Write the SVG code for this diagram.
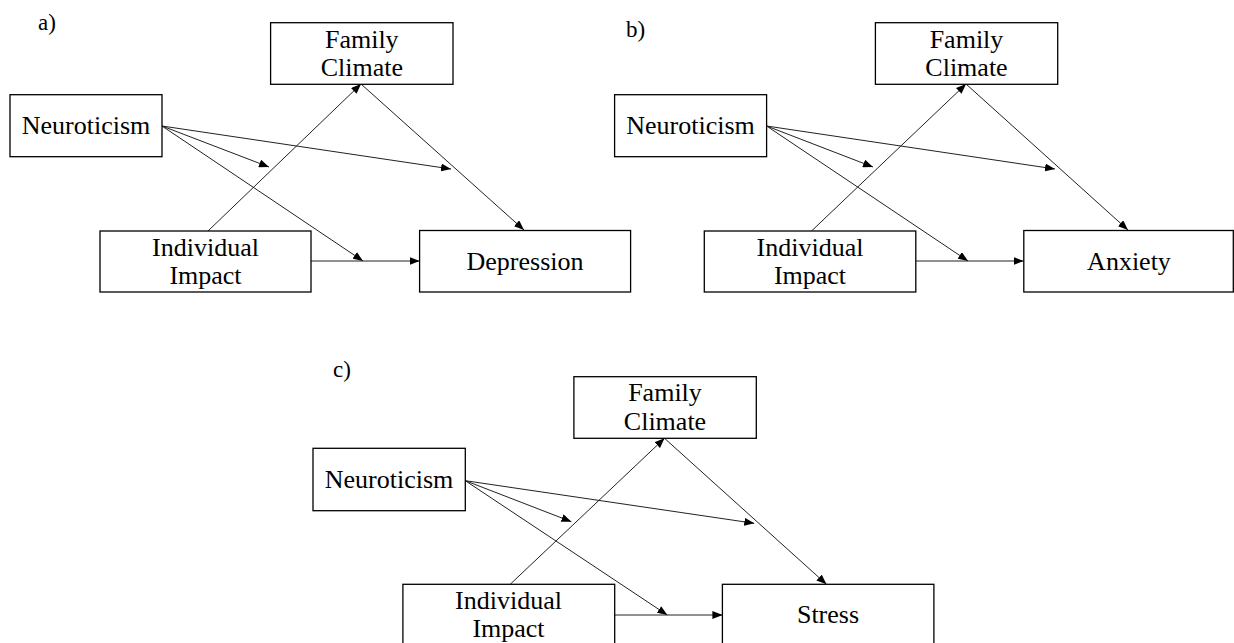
<svg xmlns="http://www.w3.org/2000/svg" width="1234" height="643" viewBox="0 0 1234 643">
<style>
.box{fill:#fff;stroke:#000;stroke-width:1.3}
.t{font-family:"Liberation Serif","Times New Roman",serif;font-size:26px;fill:#000;text-anchor:middle}
.lab{font-family:"Liberation Serif","Times New Roman",serif;font-size:23px;fill:#000}
.c{fill:none;stroke:#222;stroke-width:1;marker-end:url(#ah)}
</style>
<defs>
<marker id="ah" markerUnits="userSpaceOnUse" markerWidth="10" markerHeight="8" viewBox="0 0 10 8" refX="10" refY="4" orient="auto">
<path d="M0,0 L10,4 L0,8 Z" fill="#000"/>
</marker>
</defs>
<rect width="1234" height="643" fill="#fff"/>
<text class="lab" x="38" y="30">a)</text>
<text class="lab" x="626" y="37">b)</text>
<text class="lab" x="333" y="377">c)</text>
<g id="connectors">
<line class="c" x1="162" y1="126" x2="269" y2="167"/>
<line class="c" x1="162" y1="126" x2="451" y2="169"/>
<line class="c" x1="162" y1="126" x2="363" y2="261"/>
<line class="c" x1="311" y1="261" x2="419.6" y2="261"/>
<line class="c" x1="208" y1="231" x2="361" y2="84"/>
<line class="c" x1="361" y1="84" x2="524" y2="230"/>
<line class="c" x1="766.6" y1="126" x2="873" y2="167"/>
<line class="c" x1="766.6" y1="126" x2="1055" y2="169"/>
<line class="c" x1="766.6" y1="126" x2="968" y2="261"/>
<line class="c" x1="915.8" y1="261" x2="1023.5" y2="261"/>
<line class="c" x1="811.5" y1="231" x2="966" y2="84"/>
<line class="c" x1="966" y1="84" x2="1128" y2="230"/>
<line class="c" x1="465.3" y1="480.7" x2="571.4" y2="521.7"/>
<line class="c" x1="465.3" y1="480.7" x2="754.3" y2="523.3"/>
<line class="c" x1="465.3" y1="480.7" x2="667.3" y2="615"/>
<line class="c" x1="614.7" y1="615" x2="722.4" y2="615"/>
<line class="c" x1="510.2" y1="584.3" x2="664.5" y2="438.3"/>
<line class="c" x1="664.5" y1="438.3" x2="826.5" y2="584.3"/>
</g>
<g id="a-family">
<rect class="box" x="270.6" y="22.7" width="182.4" height="61.6"/>
<text class="t" x="361.8" y="48">Family</text>
<text class="t" x="361.8" y="76">Climate</text>
</g>
<g id="a-neuroticism">
<rect class="box" x="10" y="94.7" width="152" height="62"/>
<text class="t" x="86" y="134">Neuroticism</text>
</g>
<g id="a-individual">
<rect class="box" x="100" y="231" width="211" height="61"/>
<text class="t" x="205.5" y="256">Individual</text>
<text class="t" x="205.5" y="284">Impact</text>
</g>
<g id="a-depression">
<rect class="box" x="419.6" y="230.5" width="211" height="61.5"/>
<text class="t" x="525" y="270">Depression</text>
</g>
<g id="b-family">
<rect class="box" x="875.4" y="22.7" width="182.3" height="61.6"/>
<text class="t" x="966.5" y="48">Family</text>
<text class="t" x="966.5" y="76">Climate</text>
</g>
<g id="b-neuroticism">
<rect class="box" x="614.6" y="94.7" width="152" height="62"/>
<text class="t" x="690.5" y="134">Neuroticism</text>
</g>
<g id="b-individual">
<rect class="box" x="704.3" y="231" width="211.5" height="61"/>
<text class="t" x="810" y="256">Individual</text>
<text class="t" x="810" y="284">Impact</text>
</g>
<g id="b-anxiety">
<rect class="box" x="1023.8" y="230.5" width="209.5" height="61.5"/>
<text class="t" x="1129" y="270">Anxiety</text>
</g>
<g id="c-family">
<rect class="box" x="573.9" y="376.7" width="182.4" height="61.6"/>
<text class="t" x="665" y="401">Family</text>
<text class="t" x="665" y="430">Climate</text>
</g>
<g id="c-neuroticism">
<rect class="box" x="313" y="448.3" width="152.3" height="62.4"/>
<text class="t" x="389" y="488">Neuroticism</text>
</g>
<g id="c-individual">
<rect class="box" x="402.9" y="584.3" width="211.8" height="62"/>
<text class="t" x="508.5" y="609">Individual</text>
<text class="t" x="508.5" y="637">Impact</text>
</g>
<g id="c-stress">
<rect class="box" x="722.4" y="584.3" width="211.5" height="62"/>
<text class="t" x="828" y="623">Stress</text>
</g>
</svg>
